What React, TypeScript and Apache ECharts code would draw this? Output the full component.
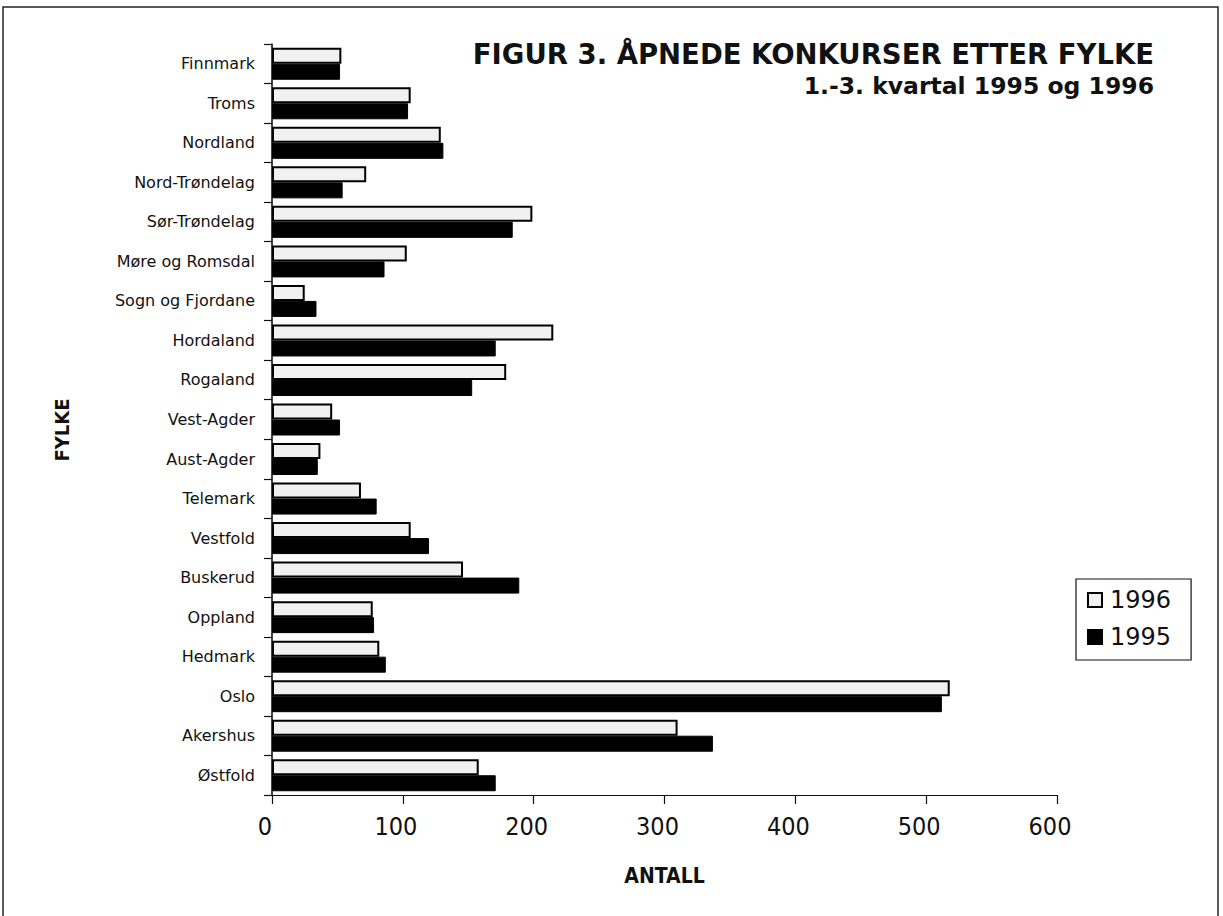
import React, { useEffect, useRef } from 'react';
import * as echarts from 'echarts';

const categories = [
  'Østfold', 'Akershus', 'Oslo', 'Hedmark', 'Oppland', 'Buskerud', 'Vestfold',
  'Telemark', 'Aust-Agder', 'Vest-Agder', 'Rogaland', 'Hordaland',
  'Sogn og Fjordane', 'Møre og Romsdal', 'Sør-Trøndelag', 'Nord-Trøndelag',
  'Nordland', 'Troms', 'Finnmark',
];
const values1996 = [158, 310, 518, 82, 77, 146, 106, 68, 37, 46, 179, 215, 25, 103, 199, 72, 129, 106, 53];
const values1995 = [171, 337, 512, 87, 78, 189, 120, 80, 35, 52, 153, 171, 34, 86, 184, 54, 131, 104, 52];
const seriesNames = ['1996', '1995'];
const titleText = 'FIGUR 3. ÅPNEDE KONKURSER ETTER FYLKE';
const subtitleText = '1.-3. kvartal 1995 og 1996';
const xAxisTitle = 'ANTALL';
const yAxisTitle = 'FYLKE';

const FONT = '"DejaVu Sans", sans-serif';
const NARROW = '"Liberation Sans Narrow", "DejaVu Sans Condensed", "DejaVu Sans", sans-serif';

export default function App() {
  const ref = useRef<HTMLDivElement>(null);
  useEffect(() => {
    if (!ref.current) return;
    const chart = echarts.init(ref.current, null, { renderer: 'svg' });
    chart.setOption({
      animation: false,
      backgroundColor: '#ffffff',
      textStyle: { fontFamily: FONT, color: '#111' },
      title: [
        {
          text: titleText,
          right: 64,
          top: 35,
          textStyle: { fontSize: 27.5, fontWeight: 'bold', color: '#111', fontFamily: FONT },
        },
        {
          text: subtitleText,
          right: 64,
          top: 69,
          textStyle: { fontSize: 23.5, fontWeight: 'bold', color: '#111', fontFamily: FONT },
        },
      ],
      legend: {
        data: seriesNames,
        orient: 'vertical',
        left: 1076,
        top: 579,
        icon: 'rect',
        itemWidth: 14,
        itemHeight: 14,
        itemGap: 13,
        padding: [9, 20, 11, 11],
        borderColor: '#111',
        borderWidth: 1.2,
        textStyle: { fontSize: 24, color: '#111', fontFamily: FONT, padding: [0, 0, 0, 3] },
      },
      grid: { left: 272, right: 166, top: 44, bottom: 121, containLabel: false },
      xAxis: {
        type: 'value',
        min: 0,
        max: 600,
        interval: 100,
        name: xAxisTitle,
        nameLocation: 'middle',
        nameGap: 70,
        nameTextStyle: { fontSize: 21, fontWeight: 'bold', color: '#111', fontFamily: NARROW },
        axisLine: { show: true, lineStyle: { color: '#111', width: 1.2 } },
        axisTick: { show: true, length: 9, lineStyle: { color: '#111', width: 1.2 } },
        axisLabel: { fontSize: 25, color: '#111', margin: 19, fontFamily: NARROW, padding: [0, 14, 0, 0] },
        splitLine: { show: false },
      },
      yAxis: {
        type: 'category',
        data: categories,
        axisLine: { show: true, lineStyle: { color: '#111', width: 1.6 } },
        axisTick: { show: true, length: 8, lineStyle: { color: '#111', width: 1.2 } },
        axisLabel: { fontSize: 16, color: '#111', margin: 17, fontFamily: FONT },
      },
      graphic: [
        {
          type: 'rect',
          shape: { x: 3, y: 7, width: 1215, height: 930 },
          style: { fill: 'none', stroke: '#222', lineWidth: 1.5 },
          silent: true,
        },
        {
          type: 'text',
          x: 62,
          y: 430,
          rotation: Math.PI / 2,
          style: {
            text: yAxisTitle,
            fontSize: 20,
            fontWeight: 'bold',
            fontFamily: NARROW,
            fill: '#111',
            textAlign: 'center',
            textVerticalAlign: 'middle',
          },
        },
      ],
      series: [
        {
          name: '1996',
          type: 'bar',
          data: values1996,
          barWidth: 16,
          barGap: '0%',
          itemStyle: { color: '#f1f1f1', borderColor: '#000', borderWidth: 2 },
        },
        {
          name: '1995',
          type: 'bar',
          data: values1995,
          barWidth: 16,
          barGap: '0%',
          itemStyle: { color: '#000000', borderColor: '#000', borderWidth: 1 },
        },
      ],
    });
    return () => chart.dispose();
  }, []);
  return (
    <div
      ref={ref}
      style={{ position: 'fixed', left: 0, top: 0, width: 1223, height: 916 }}
    />
  );
}
